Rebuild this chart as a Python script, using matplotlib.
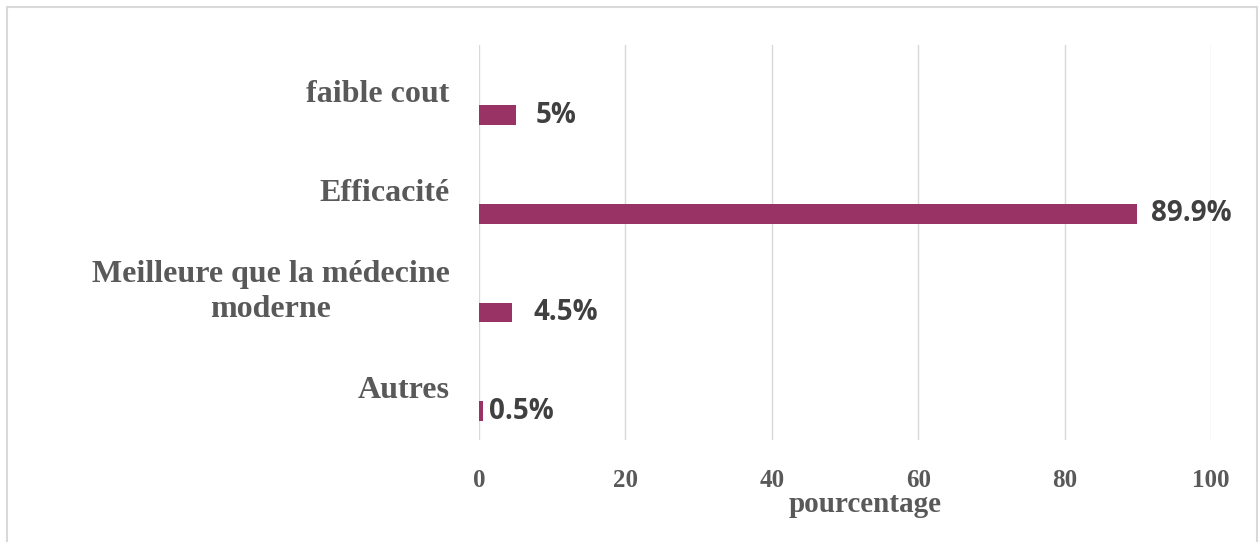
import matplotlib
matplotlib.use("Agg")
import matplotlib.pyplot as plt
import matplotlib.patches as mpatches
import matplotlib.transforms as mtransforms
import numpy as np

# ── Data ──────────────────────────────────────────────────────────────────────
categories = ["faible cout", "Efficacité", "Meilleure que la médecine\nmoderne", "Autres"]
values     = [5.0, 89.9, 4.5, 0.5]
val_labels = ["5%", "89.9%", "4.5%", "0.5%"]
xticks     = [0, 20, 40, 60, 80, 100]
xlabel     = "pourcentage"

BAR_COLOR  = "#993366"
GRID_COLOR = "#d9d9d9"
CAT_COLOR  = "#595959"
VAL_COLOR  = "#404040"
SERIF      = "Liberation Serif"
SANS       = "Open Sans"

W, H = 1260, 542
fig = plt.figure(figsize=(W / 100, H / 100), dpi=100)
ax = fig.add_axes([479 / W, 1 - 440 / H, (1211 - 479) / W, (440 - 45) / H])

y = np.arange(len(categories))
bar_off = 0.21      # bars sit below the category centre (Excel-style)
ax.barh(y + bar_off, values, height=0.2, color=BAR_COLOR, zorder=3)

ax.set_xlim(0, 100)
ax.set_ylim(len(categories) - 0.5, -0.5)
ax.set_xticks(xticks)
ax.set_xticklabels([str(t) for t in xticks], family=SERIF, fontweight="bold",
                   fontsize=18, color=CAT_COLOR)
ax.tick_params(axis="x", length=0, pad=21)
ax.set_yticks([])
for s in ax.spines.values():
    s.set_visible(False)
ax.grid(axis="x", color=GRID_COLOR, linewidth=1.0, zorder=0)

# category labels, right-aligned left of the plot area
trans = mtransforms.blended_transform_factory(ax.transAxes, ax.transData)
for i, c in enumerate(categories):
    ax.text(-0.04, i, c, transform=trans, ha="right", va="center",
            multialignment="center", family=SERIF, fontweight="bold",
            fontsize=23, color=CAT_COLOR, linespacing=1.3)

# value labels
pads = [20, 14, 22, 6]
for i, (v, lab) in enumerate(zip(values, val_labels)):
    ax.annotate(lab, xy=(v, i + bar_off), xytext=(pads[i] * 0.72, 0),
                textcoords="offset points", ha="left", va="center",
                family=SANS, fontweight="bold", fontsize=20, color=VAL_COLOR)

# axis title
ax.text((865 - 479) / (1211 - 479), -(504 - 440) / (440 - 45), xlabel,
        transform=ax.transAxes, ha="center", va="center", family=SERIF,
        fontweight="bold", fontsize=21, color=CAT_COLOR)

# chart border
fig.patches.append(mpatches.Rectangle((7 / W, -0.05), (1257 - 7) / W, 1.05 - 7 / H,
                                      transform=fig.transFigure, fill=False,
                                      edgecolor="#d9d9d9", linewidth=1.5))

fig.savefig("out.png", dpi=100)
